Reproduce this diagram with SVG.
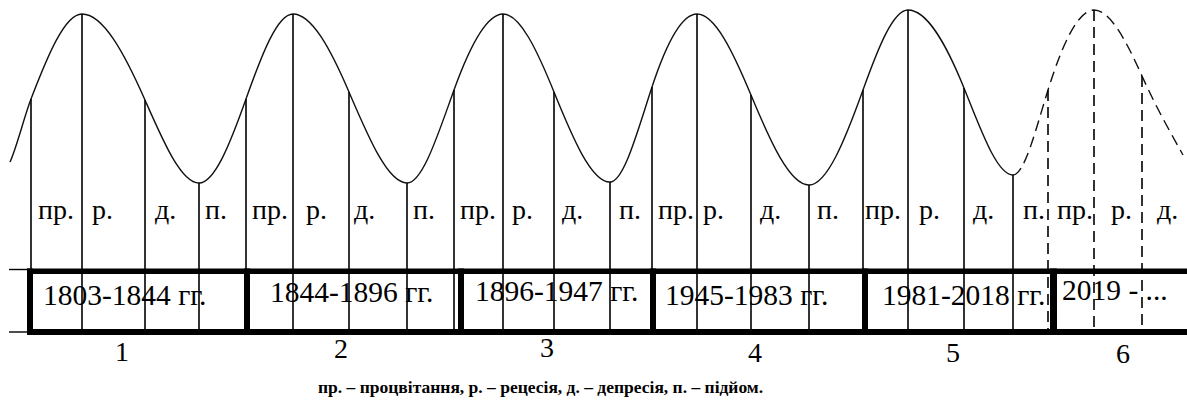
<svg xmlns="http://www.w3.org/2000/svg" width="1187" height="416" viewBox="0 0 1187 416">
<style>
.curve{fill:none;stroke:#111;stroke-width:1.4}
.dash{stroke-dasharray:11 6}
.vl{stroke:#000;stroke-width:1.6}
.band{fill:#000}
.thin{stroke:#000;stroke-width:1.4}
text{font-family:"Liberation Serif","Times New Roman",serif;fill:#000}
.lbl{font-size:28px}
.yr{font-size:29.5px}
.num{font-size:28px;text-anchor:middle}
.legend{font-size:17.5px;font-weight:bold}
</style>
<rect width="1187" height="416" fill="#fff"/>
<g id="connectors">
  <g id="wave">
    <path class="curve" d="M10,162 C17,146.6 24,117.2 31,99 C48,54.8 65,14 82,14 C103,14 124,52.3 145,100 C163,140.9 181,183 199,183 C214.7,183 230.3,143.2 246,99 C261.7,54.8 277.3,14 293,14 C311.7,14 330.3,48.5 349,92 C368.3,137 387.7,183 407,183 C422.7,183 438.3,133.4 454,90 C470.3,44.8 486.7,14 503,14 C520,14 537,50 554,92 C572.7,138.1 591.3,182 610,182 C624,182 638,129.4 652,87 C667,41.5 682,14 697,14 C715,14 733,51.8 751,95 C770.3,141.4 789.7,185 809,185 C827,185 845,140 863,90 C878,48.3 893,10 908,10 C926.7,10 945.3,41.9 964,88 C980.3,128.3 996.7,175 1013,175"/>
    <path class="curve dash" d="M1013,175 C1024.7,175 1036.3,127.3 1048,90 C1063.3,41 1078.7,10 1094,10 C1110,10 1126,40.3 1142,76 C1155.7,106.5 1169.3,130.4 1183,155"/>
  </g>
  <g id="dividers">
    <line class="vl" x1="31" y1="99" x2="31" y2="332"/>
    <line class="vl" x1="82" y1="14" x2="82" y2="332"/>
    <line class="vl" x1="145" y1="100" x2="145" y2="332"/>
    <line class="vl" x1="199" y1="183" x2="199" y2="332"/>
    <line class="vl" x1="246" y1="99" x2="246" y2="332"/>
    <line class="vl" x1="293" y1="14" x2="293" y2="332"/>
    <line class="vl" x1="349" y1="92" x2="349" y2="332"/>
    <line class="vl" x1="407" y1="183" x2="407" y2="332"/>
    <line class="vl" x1="454" y1="90" x2="454" y2="332"/>
    <line class="vl" x1="503" y1="14" x2="503" y2="332"/>
    <line class="vl" x1="554" y1="92" x2="554" y2="332"/>
    <line class="vl" x1="610" y1="182" x2="610" y2="332"/>
    <line class="vl" x1="652" y1="87" x2="652" y2="332"/>
    <line class="vl" x1="697" y1="14" x2="697" y2="332"/>
    <line class="vl" x1="751" y1="95" x2="751" y2="332"/>
    <line class="vl" x1="809" y1="185" x2="809" y2="332"/>
    <line class="vl" x1="863" y1="90" x2="863" y2="332"/>
    <line class="vl" x1="908" y1="10" x2="908" y2="332"/>
    <line class="vl" x1="964" y1="88" x2="964" y2="332"/>
    <line class="vl" x1="1013" y1="175" x2="1013" y2="332"/>
    <line class="vl dash" x1="1048" y1="90" x2="1048" y2="332"/>
    <line class="vl dash" x1="1094" y1="10" x2="1094" y2="332"/>
    <line class="vl dash" x1="1142" y1="76" x2="1142" y2="332"/>
  </g>
</g>
<g id="table">
  <line class="thin" x1="9" y1="269.5" x2="28" y2="269.5"/>
  <line class="thin" x1="9" y1="332" x2="28" y2="332"/>
  <rect class="band" x="27" y="268.5" width="1160" height="5.5"/>
  <rect class="band" x="27" y="329" width="1160" height="6"/>
  <rect class="band" x="27" y="268.5" width="6" height="66.5"/>
  <rect class="band" x="244" y="268.5" width="6" height="66.5"/>
  <rect class="band" x="458" y="268.5" width="6" height="66.5"/>
  <rect class="band" x="650" y="268.5" width="6" height="66.5"/>
  <rect class="band" x="862" y="268.5" width="6" height="66.5"/>
  <rect class="band" x="1050" y="268.5" width="7" height="66.5"/>
</g>
<g id="cycle-1">
  <text class="lbl" x="38" y="219">пр.</text>
  <text class="lbl" x="92" y="219">р.</text>
  <text class="lbl" x="155" y="219">д.</text>
  <text class="lbl" x="205" y="219">п.</text>
  <text class="yr" x="43" y="305">1803-1844 гг.</text>
  <text class="num" x="122" y="361">1</text>
</g>
<g id="cycle-2">
  <text class="lbl" x="252" y="219">пр.</text>
  <text class="lbl" x="306" y="219">р.</text>
  <text class="lbl" x="354" y="219">д.</text>
  <text class="lbl" x="413" y="219">п.</text>
  <text class="yr" x="270" y="302">1844-1896 гг.</text>
  <text class="num" x="341" y="358">2</text>
</g>
<g id="cycle-3">
  <text class="lbl" x="460" y="219">пр.</text>
  <text class="lbl" x="512" y="219">р.</text>
  <text class="lbl" x="562" y="219">д.</text>
  <text class="lbl" x="619" y="219">п.</text>
  <text class="yr" x="475" y="301">1896-1947 гг.</text>
  <text class="num" x="547" y="357">3</text>
</g>
<g id="cycle-4">
  <text class="lbl" x="658" y="219">пр.</text>
  <text class="lbl" x="703" y="219">р.</text>
  <text class="lbl" x="760" y="219">д.</text>
  <text class="lbl" x="817" y="219">п.</text>
  <text class="yr" x="665" y="305">1945-1983 гг.</text>
  <text class="num" x="755" y="362">4</text>
</g>
<g id="cycle-5">
  <text class="lbl" x="865" y="219">пр.</text>
  <text class="lbl" x="919" y="219">р.</text>
  <text class="lbl" x="973" y="219">д.</text>
  <text class="lbl" x="1023" y="219">п.</text>
  <text class="yr" x="882" y="305">1981-2018 гг.</text>
  <text class="num" x="953" y="362">5</text>
</g>
<g id="cycle-6">
  <text class="lbl" x="1057" y="219">пр.</text>
  <text class="lbl" x="1111" y="219">р.</text>
  <text class="lbl" x="1157" y="219">д.</text>
  <text class="yr" x="1062" y="300">2019 - ...</text>
  <text class="num" x="1123" y="363">6</text>
</g>
<g id="legend">
  <text class="legend" x="318" y="393">пр. – процвітання, р. – рецесія, д. – депресія, п. – підйом.</text>
</g>
</svg>
